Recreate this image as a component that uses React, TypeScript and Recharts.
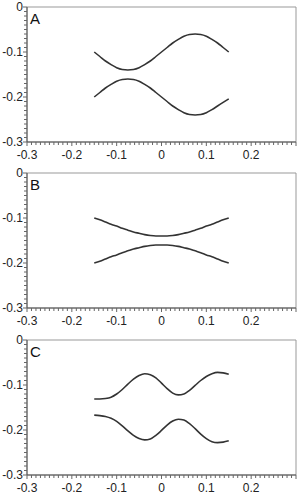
import { LineChart, Line, XAxis, YAxis, ReferenceArea } from 'recharts'

// sample positions along x, shared by all three panels
const X_POINTS = [
  -0.15, -0.1375, -0.125, -0.1125, -0.1, -0.0875, -0.075, -0.0625, -0.05, -0.0375, -0.025, -0.0125, 0,
  0.0125, 0.025, 0.0375, 0.05, 0.0625, 0.075, 0.0875, 0.1, 0.1125, 0.125, 0.1375, 0.15,
]

const A_UPPER = [
  -0.1, -0.11, -0.12, -0.128, -0.135, -0.139, -0.14, -0.139, -0.135, -0.128, -0.12, -0.11, -0.1,
  -0.09, -0.08, -0.072, -0.065, -0.061, -0.06, -0.061, -0.065, -0.072, -0.08, -0.09, -0.1,
]
const A_LOWER = [
  -0.2, -0.19, -0.18, -0.172, -0.165, -0.161, -0.16, -0.161, -0.165, -0.172, -0.18, -0.19, -0.2,
  -0.21, -0.22, -0.228, -0.235, -0.239, -0.24, -0.239, -0.235, -0.228, -0.22, -0.212, -0.204,
]

const B_UPPER = [
  -0.1, -0.104, -0.109, -0.114, -0.118, -0.123, -0.127, -0.131, -0.134, -0.137, -0.139, -0.14, -0.14,
  -0.14, -0.139, -0.137, -0.134, -0.131, -0.127, -0.123, -0.118, -0.114, -0.109, -0.104, -0.1,
]
const B_LOWER = [
  -0.2, -0.196, -0.191, -0.186, -0.182, -0.177, -0.173, -0.169, -0.166, -0.163, -0.161, -0.16, -0.16,
  -0.16, -0.161, -0.163, -0.166, -0.169, -0.173, -0.177, -0.182, -0.186, -0.191, -0.196, -0.2,
]

const C_UPPER = [
  -0.131, -0.131, -0.13, -0.127, -0.12, -0.11, -0.098, -0.087, -0.079, -0.075, -0.077, -0.084, -0.096,
  -0.108, -0.118, -0.122, -0.12, -0.112, -0.101, -0.09, -0.081, -0.075, -0.072, -0.073, -0.076,
]
const C_LOWER = [
  -0.167, -0.168, -0.17, -0.174, -0.181, -0.191, -0.202, -0.212, -0.219, -0.222, -0.22, -0.212, -0.201,
  -0.189, -0.18, -0.176, -0.178, -0.186, -0.197, -0.209, -0.219, -0.226, -0.228, -0.227, -0.224,
]

const X_LABELS = ['-0.3', '-0.2', '-0.1', '0', '0.1', '0.2']
const Y_LABELS = ['0', '-0.1', '-0.2', '-0.3']

// minor ticks every 0.01
const X_TICKS: number[] = []
for (let i = -30; i <= 30; i++) X_TICKS.push(i / 100)
const Y_TICKS: number[] = []
for (let i = -30; i <= 0; i++) Y_TICKS.push(i / 100)

const FONT = '"Liberation Sans", Arial, sans-serif'
const AXIS = '#555'

const fmt = (v: number) => {
  const r = Math.round(v * 10) / 10
  return r === 0 ? '0' : r.toFixed(1)
}

const XTick = (props: any) => {
  const { x, y, payload } = props
  const v = Math.round(payload.value * 100)
  const major = v % 10 === 0
  const label = fmt(payload.value)
  return (
    <g>
      <line x1={x} x2={x} y1={y} y2={y + (major ? 4 : 3)} stroke="#666" strokeWidth={1} />
      {major && X_LABELS.includes(label) && (
        <text x={x} y={y + 16.5} textAnchor="middle" fontSize={12} fontFamily={FONT} fill="#222">
          {label}
        </text>
      )}
    </g>
  )
}

const YTick = (props: any) => {
  const { x, y, payload } = props
  const v = Math.round(payload.value * 100)
  const major = v % 10 === 0
  const label = fmt(payload.value)
  return (
    <g>
      <line x1={x} x2={x - (major ? 4 : 3)} y1={y} y2={y} stroke="#666" strokeWidth={1} />
      {major && Y_LABELS.includes(label) && (
        <text x={x - 4} y={y} dy="0.35em" textAnchor="end" fontSize={12} fontFamily={FONT} fill="#222">
          {label}
        </text>
      )}
    </g>
  )
}

function Panel({ title, upper, lower, top }: { title: string; upper: number[]; lower: number[]; top: number }) {
  const data = X_POINTS.map((x, i) => ({ x, upper: upper[i], lower: lower[i] }))
  return (
    <div style={{ position: 'absolute', left: 0, top, width: 300, height: 166 }}>
      <LineChart width={300} height={166} data={data} margin={{ top: 7, right: 4, bottom: 0, left: 0 }}>
        <ReferenceArea x1={-0.3} x2={0.3} y1={-0.3} y2={0} fill="none" stroke="#999" strokeWidth={1} ifOverflow="visible" />
        <XAxis
          dataKey="x"
          type="number"
          domain={[-0.3, 0.3]}
          ticks={X_TICKS}
          interval={0}
          height={24}
          tickSize={0}
          tickMargin={0}
          tickLine={false}
          axisLine={{ stroke: AXIS }}
          tick={<XTick />}
          allowDataOverflow
        />
        <YAxis
          type="number"
          domain={[-0.3, 0]}
          ticks={Y_TICKS}
          interval={0}
          width={27}
          tickSize={0}
          tickMargin={0}
          tickLine={false}
          axisLine={{ stroke: AXIS }}
          tick={<YTick />}
          allowDataOverflow
        />
        <Line dataKey="upper" type="monotone" stroke="#333" strokeWidth={1.6} dot={false} isAnimationActive={false} />
        <Line dataKey="lower" type="monotone" stroke="#333" strokeWidth={1.6} dot={false} isAnimationActive={false} />
      </LineChart>
      <div style={{ position: 'absolute', left: 30, top: 11, fontFamily: FONT, fontSize: 15, lineHeight: '15px', color: '#111' }}>
        {title}
      </div>
    </div>
  )
}

export default function App() {
  return (
    <div style={{ position: 'absolute', left: 0, top: 0, width: 300, height: 495, background: '#fff' }}>
      <Panel title="A" upper={A_UPPER} lower={A_LOWER} top={0} />
      <Panel title="B" upper={B_UPPER} lower={B_LOWER} top={166} />
      <Panel title="C" upper={C_UPPER} lower={C_LOWER} top={333} />
    </div>
  )
}
